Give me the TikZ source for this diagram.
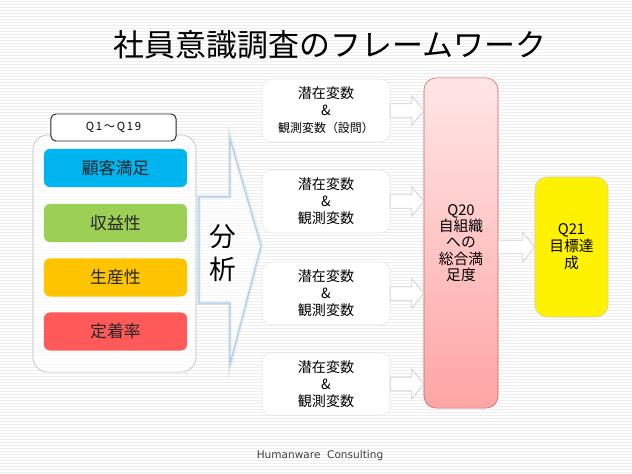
\documentclass[tikz,border=0pt]{standalone}
\usepackage{fontspec}
\setmainfont{Noto Sans CJK JP}
\newfontfamily\footfont{DejaVu Sans}
\newfontfamily\widefont{Noto Sans CJK JP}[LetterSpace=15]
\usepackage{tikz}
\usetikzlibrary{calc}
\definecolor{catblue}{RGB}{0,180,240}
\definecolor{catgreen}{RGB}{155,208,85}
\definecolor{catorange}{RGB}{255,196,0}
\definecolor{catred}{RGB}{255,90,90}
\definecolor{qtop}{RGB}{255,230,230}
\definecolor{qbot}{RGB}{255,165,165}
\definecolor{qedge}{RGB}{205,95,95}
\definecolor{glow}{RGB}{180,205,225}

\begin{document}
\begin{tikzpicture}[
    x=0.025cm, y=-0.025cm,
    stripe/.style={gray!14, line width=0.5pt},
    panel/.style={draw=gray!55, fill=white, fill opacity=0.7, rounded corners=0.375cm, minimum width=4.075cm, minimum height=5.925cm},
    qtag/.style={draw=black!85, fill=white, line width=0.7pt, rounded corners=0.12cm, minimum width=3.125cm, minimum height=0.675cm, font=\widefont\fontsize{8}{10}\selectfont},
    cat/.style={rounded corners=0.15cm, minimum width=3.575cm, minimum height=0.95cm, text=black!85, font=\fontsize{12}{14}\selectfont},
    lv/.style={draw=gray!20, fill=white, rounded corners=0.25cm, minimum width=3.2cm, minimum height=1.575cm, align=center, font=\fontsize{10}{12}\selectfont},
    total/.style={draw=qedge, top color=qtop, bottom color=qbot, rounded corners=0.3cm, minimum width=1.85cm, minimum height=8.25cm, align=center, font=\fontsize{10.5}{11.5}\selectfont},
    goal/.style={draw=gray!40, fill=yellow, rounded corners=0.3cm, minimum width=1.825cm, minimum height=3.5cm, align=center, font=\fontsize{10.5}{12}\selectfont},
    bigarrow/.style={draw=glow, line width=0.8pt, fill=white, fill opacity=0.55, preaction={draw=glow, line width=3pt, draw opacity=0.35}},
    blockarrow/.style={draw=gray!35, fill=white, line width=0.6pt,
        to path={let \p1=(\tikztostart), \p2=(\tikztotarget) in
            (\x1,\y1+4.8pt) -- (\x2-8.5pt,\y1+4.8pt) -- (\x2-8.5pt,\y1+10.5pt) -- (\x2,\y1)
            -- (\x2-8.5pt,\y1-10.5pt) -- (\x2-8.5pt,\y1-4.8pt) -- (\x1,\y1-4.8pt) -- cycle}},
]
\useasboundingbox (0,0) rectangle (632,474);

% Background
\fill[white] (0,0) rectangle (632,474);
\foreach \i in {1,4,...,474} \draw[stripe] (0,\i) -- (632,\i);

% Title
\node[font=\fontsize{22}{26}\selectfont] (title) at (330,45) {社員意識調査のフレームワーク};

% Questions Q1-Q19
\node[panel] (panel) at (114.5,253.5) {};
\node[qtag] (qtag) at (113.5,127.5) {Q1～Q19};
\node[cat, fill=catblue] (cs) at (115.5,168) {顧客満足};
\node[cat, fill=catgreen] (profit) at (115.5,223) {収益性};
\node[cat, fill=catorange] (prod) at (115.5,277.5) {生産性};
\node[cat, fill=catred] (retain) at (115.5,331.5) {定着率};

% Analysis
\draw[bigarrow] (199,197) -- (230,197) -- (230,139) -- (261,246) -- (230,364) -- (230,303) -- (199,303) -- cycle;
\node[font=\fontsize{19}{23}\selectfont, align=center] (ana) at (223,253) {分\\析};

% Latent and observed variables
\node[lv] (lv1) at (326,110.5) {潜在変数\\\&\\{\fontsize{8.5}{12}\selectfont 観測変数（設問）}};
\node[lv] (lv2) at (326,201.5) {潜在変数\\\&\\観測変数};
\node[lv] (lv3) at (326,293.5) {潜在変数\\\&\\観測変数};
\node[lv] (lv4) at (326,384) {潜在変数\\\&\\観測変数};

% Q20 and Q21
\node[total] (q20) at (461,243) {Q20\\自組織\\への\\総合満\\足度};
\node[goal] (q21) at (571.5,247) {Q21\\目標達\\成};

% Arrows
\foreach \n in {lv1,lv2,lv3,lv4}
    \draw[blockarrow] (\n.east) to (q20.west);
\draw[blockarrow] (q20.east |- q21.west) to (q21.west);

% Footer
\node[font=\footfont\fontsize{7.5}{9}\selectfont, text=black!75] (foot) at (320,456) {Humanware\ \ Consulting};

\end{tikzpicture}
\end{document}
